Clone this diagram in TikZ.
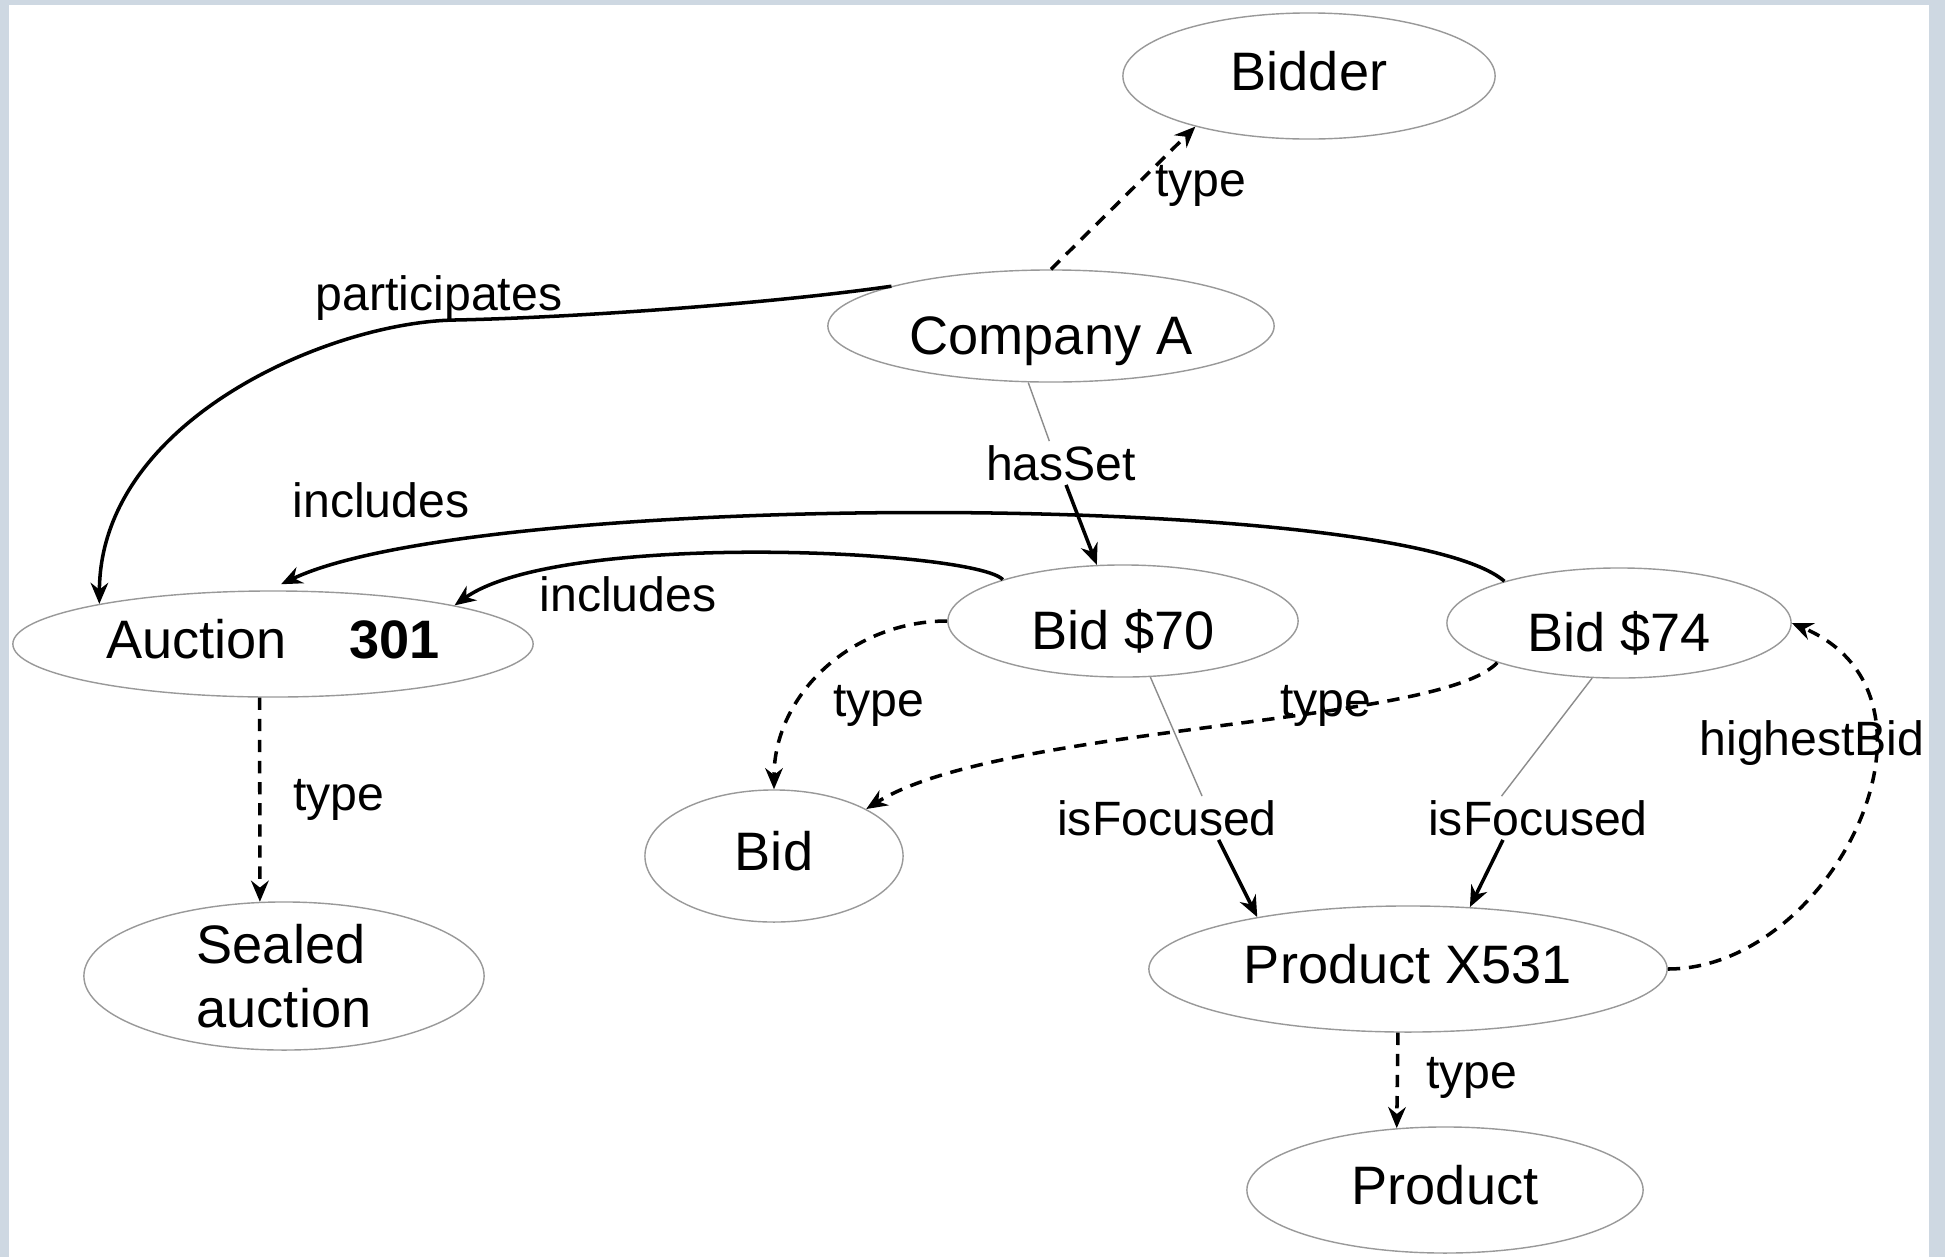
\documentclass[tikz,border=0pt]{standalone}
\usepackage{fontspec}
\setmainfont{Liberation Sans}
\usetikzlibrary{shapes.geometric, arrows.meta}

\definecolor{frame}{RGB}{206,216,226}

\begin{document}
\begin{tikzpicture}[x=0.01cm, y=-0.01cm,
  obj/.style={ellipse, draw=black!40, line width=0.4pt, inner sep=0pt,
              font=\fontsize{15.4}{18}\selectfont, text height=.82em, text depth=0pt},
  low/.style={text height=1.6em, inner ysep=-1.5pt},
  lbl/.style={font=\fontsize{13.7}{16}\selectfont, inner sep=1pt},
  rel/.style={-{Stealth[length=6pt,width=5pt]}, line width=1pt},
  isa/.style={rel, dash pattern=on 3.5pt off 2.5pt},
  faint/.style={black!45, line width=0.4pt}
]
\useasboundingbox (0,0) rectangle (1945,1257);
% screen frame
\fill[frame] (0,0) rectangle (1945,1257);
\fill[white] (9,5) rectangle (1929,1257);

% resources
\node[obj, minimum width=3.72cm, minimum height=1.26cm] (bidder)  at (1309,76)  {Bidder};
\node[obj, low, minimum width=4.46cm, minimum height=1.12cm] (compA) at (1051,326) {Company A};
\node[obj, minimum width=5.2cm,  minimum height=1.06cm] (auction) at (273,644)  {Auction\hspace{1.15em}\textbf{301}};
\node[obj, low, minimum width=3.5cm,  minimum height=1.12cm] (bid70) at (1123,621) {Bid \$70};
\node[obj, low, minimum width=3.44cm, minimum height=1.1cm]  (bid74) at (1619,623) {Bid \$74};
\node[obj, minimum width=2.58cm, minimum height=1.32cm] (bid)     at (774,856)  {Bid};
\node[obj, minimum width=4cm,    minimum height=1.48cm, align=left,
      text height=, text depth=-.1em, inner ysep=-1.5pt] (sealed) at (284,976)  {Sealed\\auction};
\node[obj, minimum width=5.18cm, minimum height=1.26cm] (prodX)   at (1408,969) {Product X531};
\node[obj, minimum width=3.96cm, minimum height=1.26cm] (product) at (1445,1190) {Product};

% property labels
\node[lbl] (tBidder)  at (1201,186)  {type};
\node[lbl] (part)     at (439,298)   {participates};
\node[lbl] (hasSet)   at (1061,463)  {hasSet};
\node[lbl] (incA)     at (381,500)   {includes};
\node[lbl] (incB)     at (628,594)   {includes};
\node[lbl] (t70)      at (879,706)   {type};
\node[lbl] (t74)      at (1326,706)  {type};
\node[lbl] (foc70)    at (1167,818)  {isFocused};
\node[lbl] (foc74)    at (1538,818)  {isFocused};
\node[lbl] (high)     at (1812,743)  {highestBid};
\node[lbl] (tAuction) at (339,800)   {type};
\node[lbl] (tProduct) at (1472,1078) {type};

% properties
\draw[isa] (compA.north) -- (bidder.204);
\draw[rel] (compA.166) .. controls (760,305) and (560,318) .. (455,320)
                       .. controls (330,322) and (100,420) .. (auction.167);
\draw[faint] (compA.248) -- (hasSet.118);
\draw[rel] (hasSet.-77) -- (bid70.115);
\draw[rel, shorten >=4pt] (bid74.160) .. controls (1400,490) and (480,490) .. (auction.95);
\draw[rel] (bid70.161) .. controls (975,550) and (560,530) .. (auction.12);
\draw[isa] (bid70.west) .. controls +(-95,0) and +(0,-95) .. (bid.north);
\draw[isa] (bid74.198) .. controls (1440,725) and (1000,725) .. (bid.27);
\draw[faint] (bid70.296) -- (foc70.32);
\draw[rel] (foc70.-23) -- (prodX.161);
\draw[faint] (bid74.244) -- (foc74.149);
\draw[rel] (foc74.212) -- (prodX.45);
\draw[isa] (prodX.east) .. controls +(163,0) and +(175,75) .. (bid74.east);
\draw[isa] (auction.256) -- (sealed.108);
\draw[isa] (prodX.261) -- (product.128);
\end{tikzpicture}
\end{document}
